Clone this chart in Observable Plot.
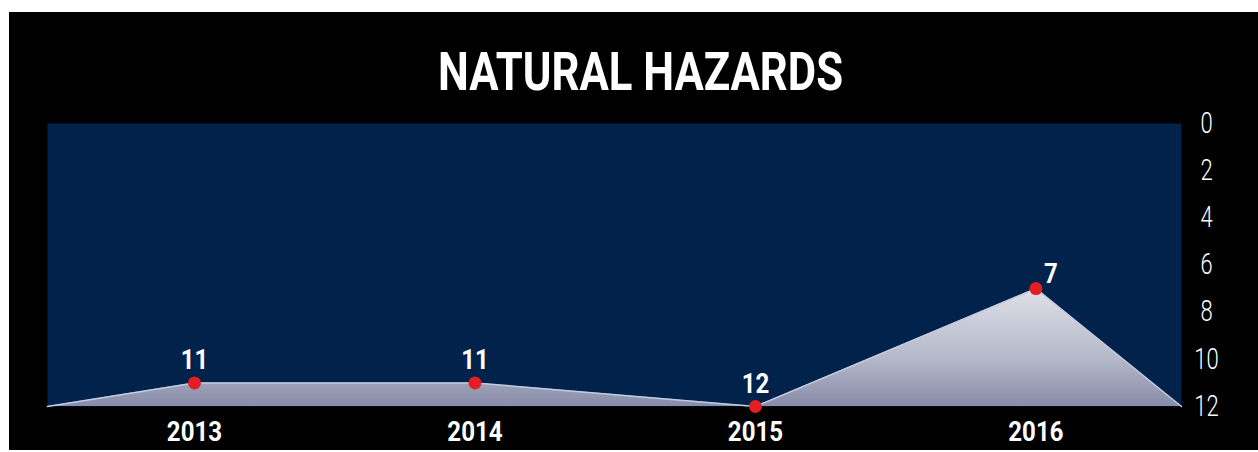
<!DOCTYPE html>
<html>
<head>
<meta charset="utf-8">
<script src="https://cdn.jsdelivr.net/npm/d3@7"></script>
<script src="https://cdn.jsdelivr.net/npm/@observablehq/plot@0.6"></script>
<style>
  html, body { margin: 0; padding: 0; background: #ffffff; }
  #page { position: relative; width: 1258px; height: 452px; overflow: hidden; }
  #bg { position: absolute; left: 9px; top: 12px; width: 1249px; height: 438px; background: #000; }
  #title {
    position: absolute; left: 0; top: 46px; width: 1281px; height: 53px;
    text-align: center; color: #fff; font-size: 53px; line-height: 53px; font-weight: bold;
    font-family: Roboto, 'Liberation Sans', sans-serif;
    transform-origin: 640.5px 50%; white-space: nowrap;
  }
  #title span { display: inline-block; }
  #chart { position: absolute; left: 0; top: 100px; }
</style>
</head>
<body>
<div id="page">
  <div id="bg"></div>
  <div id="title"><span id="titleText">NATURAL HAZARDS</span></div>
  <div id="chart"></div>
</div>
<script>
const years = [2013, 2014, 2015, 2016];
const hazards = [11, 11, 12, 7];
const yTicks = [0, 2, 4, 6, 8, 10, 12];
const xDomain = [2012.476, 2016.519];
const yDomain = [0, 12];

const font = "Roboto, 'Liberation Sans', sans-serif";
const data = years.map((year, i) => ({year, value: hazards[i]}));
const areaData = [{year: xDomain[0], value: yDomain[1]}, ...data, {year: xDomain[1], value: yDomain[1]}];
const peak = d3.min(hazards);

function gradientDefs() {
  const defs = d3.create("svg:defs");
  const g = defs.append("linearGradient").attr("id", "areaGrad")
    .attr("x1", 0).attr("y1", 0).attr("x2", 0).attr("y2", 1);
  g.append("stop").attr("offset", "0%").attr("stop-color", "#dfe0e7");
  g.append("stop").attr("offset", "60%").attr("stop-color", "#b4b8c9");
  g.append("stop").attr("offset", "100%").attr("stop-color", "#878ca9");
  return defs.node();
}

const chart = Plot.plot({
  width: 1258,
  height: 352,
  marginLeft: 47,
  marginRight: 77,
  marginTop: 23,
  marginBottom: 46,
  style: {background: "transparent", color: "#fff", fontFamily: font},
  x: {domain: xDomain, axis: null},
  y: {domain: yDomain, reverse: true, axis: null},
  marks: [
    Plot.frame({fill: "#01224a", stroke: null}),
    gradientDefs,
    Plot.area(areaData, {x1: "year", y1: d => yDomain[1], y2: "value", fill: "url(#areaGrad)"}),
    Plot.line(areaData, {x: "year", y: "value", stroke: "#c3cbe0", strokeWidth: 1.5}),
    Plot.dot(data, {x: "year", y: "value", r: 6.5, fill: "#e31e25", stroke: null}),
    Plot.text(data.filter(d => d.value !== peak), {
      x: "year", y: "value", text: d => String(d.value),
      lineAnchor: "bottom", dy: -14, fill: "#fff", fontSize: 28, fontWeight: "bold", fontFamily: font
    }),
    Plot.text(data.filter(d => d.value === peak), {
      x: "year", y: "value", text: d => String(d.value),
      lineAnchor: "bottom", textAnchor: "start", dx: 8, dy: -6, fill: "#fff", fontSize: 28, fontWeight: "bold", fontFamily: font
    }),
    Plot.axisX({
      ticks: years, tickFormat: d => String(d), tickSize: 0, tickPadding: 0, label: null,
      lineAnchor: "middle", dy: 26, fill: "#fff", fontSize: 28, fontWeight: "bold", fontFamily: font
    }),
    Plot.axisY({
      anchor: "right", ticks: yTicks, tickFormat: d => String(d), tickSize: 0, tickPadding: 0, label: null,
      textAnchor: "middle", dx: 25, fill: "#fff", fontSize: 29, fontWeight: 300, fontFamily: font
    })
  ]
});
document.getElementById("chart").appendChild(chart);

// condense text horizontally (the reference uses a condensed face)
function condense(sel, s) {
  chart.querySelectorAll(sel).forEach(t => {
    const tr = t.getAttribute("transform");
    if (tr) t.setAttribute("transform", tr + ` scale(${s},1)`);
    else {
      const x = +(t.getAttribute("x") || 0);
      t.setAttribute("transform", `translate(${x},0) scale(${s},1) translate(${-x},0)`);
    }
  });
}
condense('g[aria-label="text"] text', 0.86);
condense('g[aria-label="x-axis tick label"] text', 0.86);
condense('g[aria-label="y-axis tick label"] text', 0.76);

const tt = document.getElementById("titleText");
const w = tt.getBoundingClientRect().width;
document.getElementById("title").style.transform = `scaleX(${405 / w})`;
</script>
</body>
</html>
